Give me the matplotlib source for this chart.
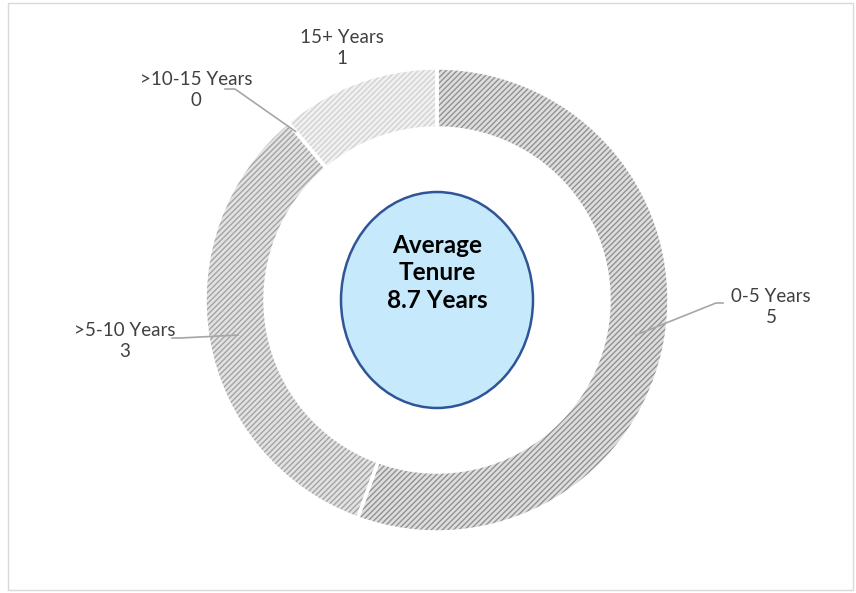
import numpy as np
import matplotlib
matplotlib.use("Agg")
import matplotlib.pyplot as plt
from matplotlib.patches import Ellipse, Rectangle

# data
categories = ["0-5 Years", ">5-10 Years", ">10-15 Years", "15+ Years"]
counts = [5, 3, 0, 1]
center_text = "Average\nTenure\n8.7 Years"

face_cols = ["#dedede", "#e2e2e2", "#e2e2e2", "#f1f1f1"]
hatch_cols = ["#929292", "#a4a4a4", "#a4a4a4", "#d2d2d2"]

W, H = 856, 593
cx, cy = 437, H - 300
R, ring = 232, 60

plt.rcParams['font.family'] = ['Lato', 'DejaVu Sans']
plt.rcParams['hatch.linewidth'] = 1.0

fig = plt.figure(figsize=(W / 100, H / 100), dpi=100)
ax = fig.add_axes([0, 0, 1, 1])

fig.patches.append(Rectangle((8 / W, 3 / H), 845 / W, 587 / H, transform=fig.transFigure,
                             fill=False, edgecolor="#d9d9d9", linewidth=1))

# hatched ring
wedges, _ = ax.pie(counts, startangle=90, counterclock=False, radius=R, center=(cx, cy),
                   colors=face_cols, wedgeprops=dict(width=ring, linewidth=0))
for w, hc in zip(wedges, hatch_cols):
    w.set_hatch('//////')
    w.set_edgecolor(hc)
    w.set_linewidth(0)
# white separators
ax.pie(counts, startangle=90, counterclock=False, radius=R, center=(cx, cy),
       wedgeprops=dict(width=ring, fill=False, edgecolor='white', linewidth=2.5))

ax.set_xlim(0, W)
ax.set_ylim(0, H)
ax.set_aspect('equal')
ax.axis('off')

# labels with leader lines
label_pos = {
    "0-5 Years": (771, 307),
    ">5-10 Years": (125, 341),
    ">10-15 Years": (196, 90),
    "15+ Years": (342, 48),
}
total = sum(counts)
start = 90.0
for cat, val in zip(categories, counts):
    span = 360.0 * val / total
    mid = np.deg2rad(start - span / 2)
    start -= span
    lx, ly = label_pos[cat]
    ax.text(lx, H - ly, f"{cat}\n{val}", ha='center', va='center', fontsize=13.5,
            color="#404040", linespacing=1.3)
    rr = R - ring / 2 if val > 0 else R - 12
    px, py = cx + rr * np.cos(mid), cy + rr * np.sin(mid)
    if cat == "0-5 Years":
        ax.plot([723, 716, px], [H - 303, H - 303, py], color="#a6a6a6", lw=1.2)
    elif cat == ">5-10 Years":
        ax.plot([172, 180, px], [H - 338, H - 338, py], color="#a6a6a6", lw=1.2)
    elif cat == ">10-15 Years":
        ax.plot([225, 235, px], [H - 89, H - 89, py], color="#a6a6a6", lw=1.2)

# centre ellipse
ax.add_patch(Ellipse((cx, H - 300), 192, 216, facecolor="#c6e9fb", edgecolor="#2f5597",
                     linewidth=1.8, zorder=5))
ax.text(cx, H - 273, center_text, ha='center', va='center', fontsize=17.5,
        fontweight='bold', color="black", linespacing=1.25, zorder=6)

fig.savefig("out.png", dpi=100)
